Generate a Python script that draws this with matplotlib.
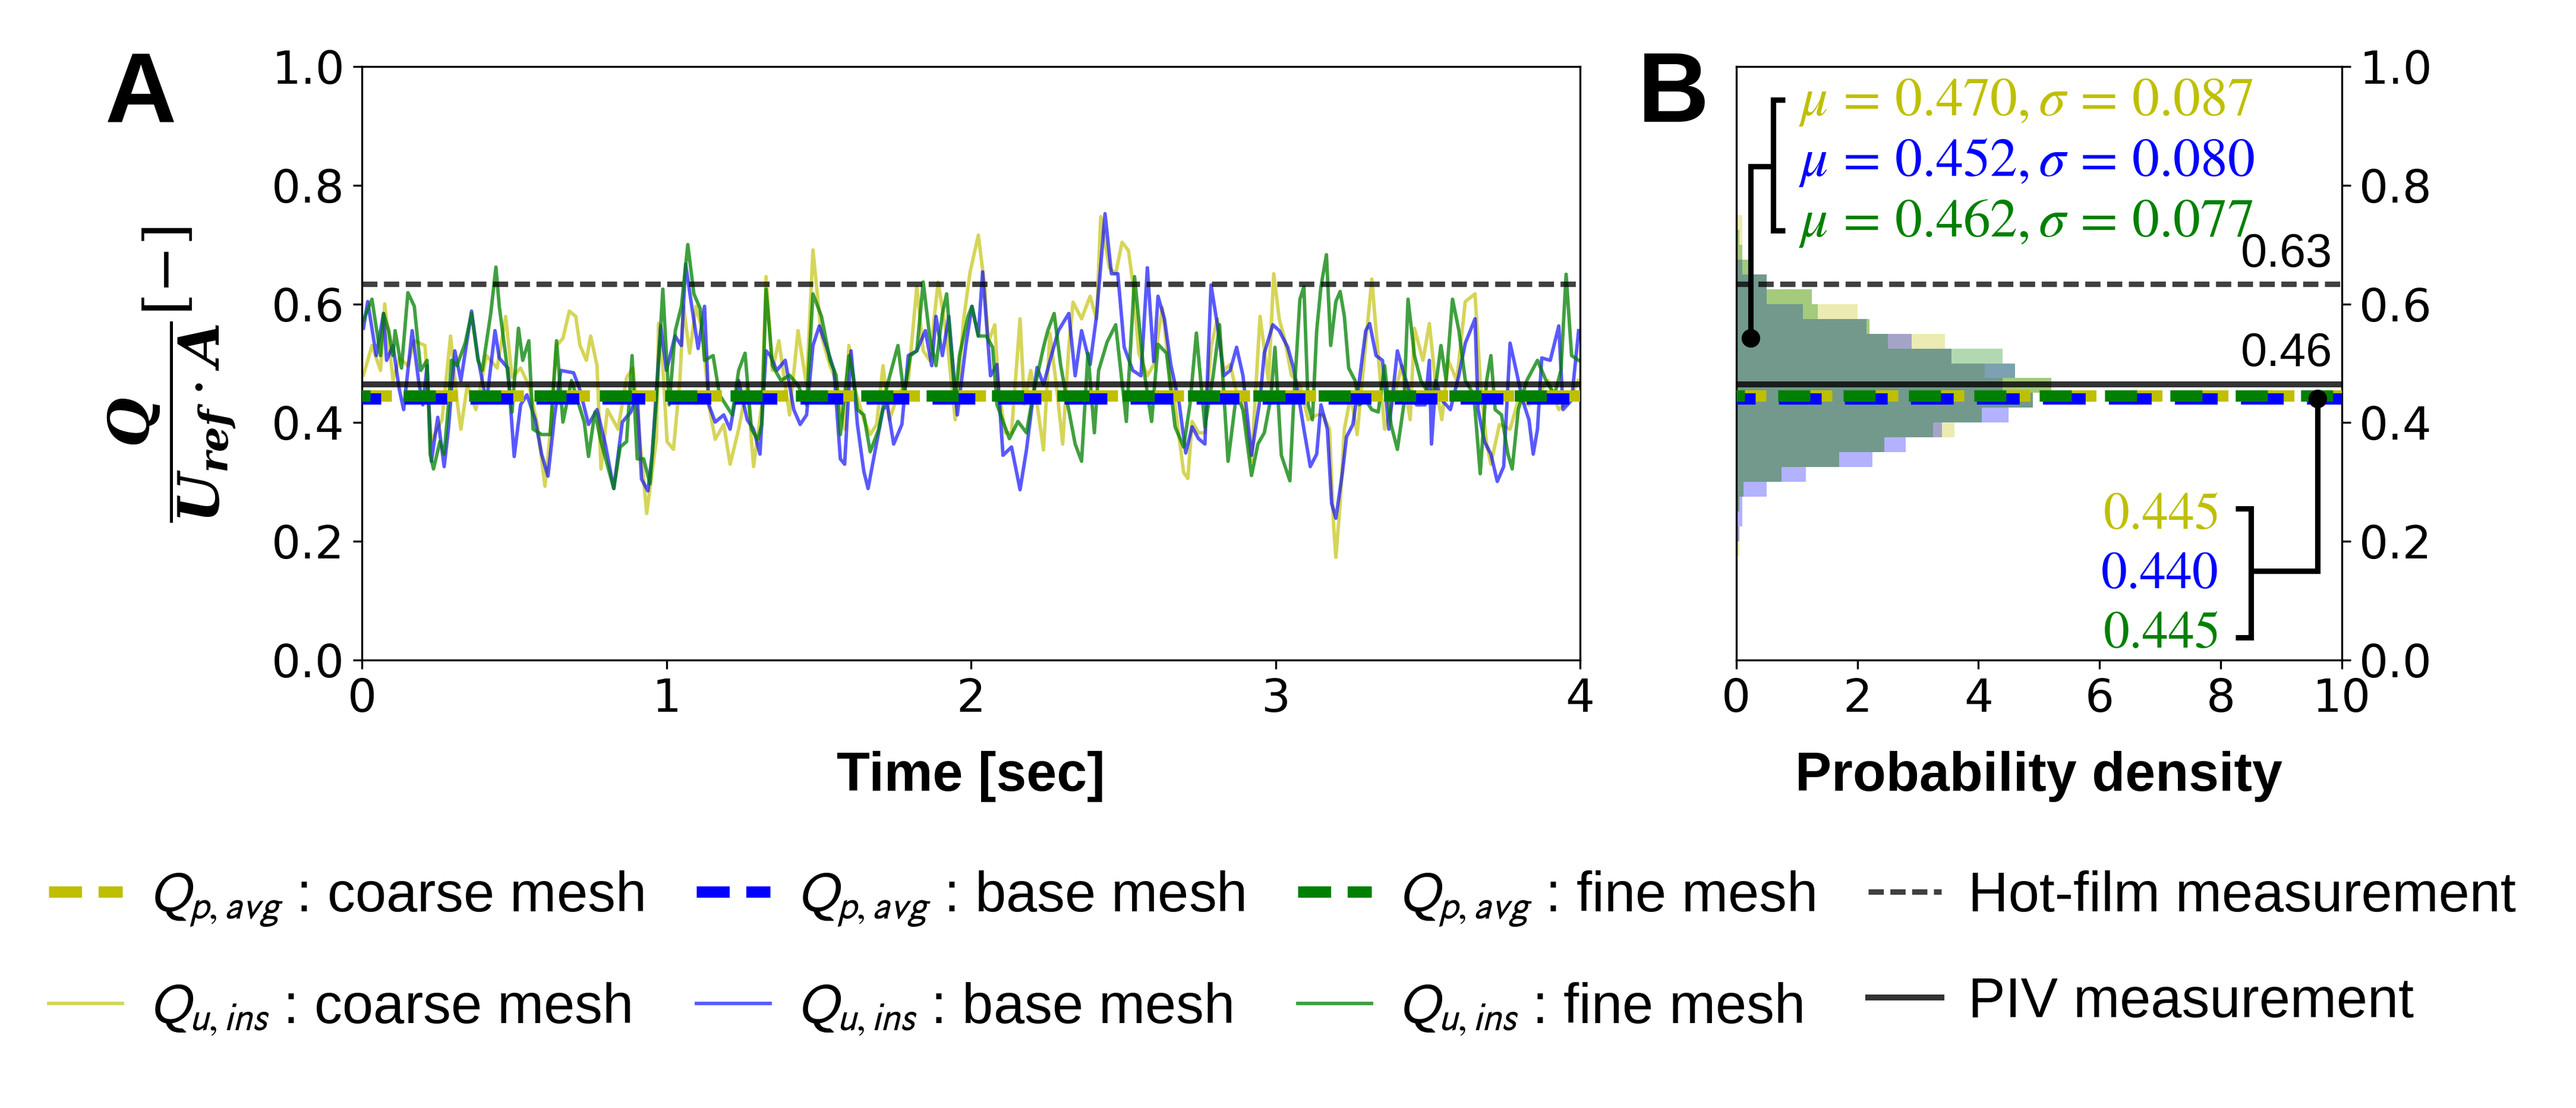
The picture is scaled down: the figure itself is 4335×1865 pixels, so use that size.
import numpy as np
import matplotlib
matplotlib.use('Agg')
import matplotlib.pyplot as plt
from matplotlib.lines import Line2D

# fuentes para el texto matematico del eje y (serif negrita cursiva)
plt.rcParams['mathtext.rm'] = 'DejaVu Serif'
plt.rcParams['mathtext.it'] = 'DejaVu Serif:italic'
plt.rcParams['mathtext.bf'] = 'DejaVu Serif:italic:bold'

# ---------------- datos ----------------
# Q_u,ins malla gruesa (coarse)
t_coarse = [0.005, 0.033, 0.061, 0.075, 0.102, 0.123, 0.151, 0.172, 0.207, 0.228, 0.263, 0.291, 0.312, 0.325,
            0.346, 0.374, 0.409, 0.444, 0.472, 0.493, 0.521, 0.548, 0.576, 0.601, 0.618, 0.639, 0.660, 0.681,
            0.702, 0.716, 0.737, 0.751, 0.772, 0.785, 0.806, 0.841, 0.869, 0.890, 0.925, 0.935, 0.967, 0.974,
            0.988, 1.002, 1.023, 1.044, 1.056, 1.076, 1.097, 1.118, 1.139, 1.160, 1.188, 1.209, 1.237, 1.265,
            1.286, 1.313, 1.327, 1.348, 1.369, 1.404, 1.432, 1.460, 1.481, 1.509, 1.537, 1.557, 1.585, 1.599,
            1.620, 1.648, 1.669, 1.690, 1.711, 1.732, 1.760, 1.794, 1.822, 1.843, 1.864, 1.892, 1.920, 1.948,
            1.976, 1.997, 2.024, 2.045, 2.057, 2.078, 2.091, 2.112, 2.133, 2.161, 2.175, 2.196, 2.217, 2.238,
            2.259, 2.280, 2.301, 2.321, 2.335, 2.363, 2.391, 2.412, 2.426, 2.454, 2.475, 2.496, 2.517, 2.531,
            2.551, 2.579, 2.600, 2.628, 2.649, 2.670, 2.698, 2.712, 2.726, 2.747, 2.768, 2.788, 2.809, 2.830,
            2.851, 2.872, 2.893, 2.921, 2.949, 2.977, 2.994, 3.012, 3.031, 3.052, 3.080, 3.107, 3.135, 3.156,
            3.177, 3.191, 3.198, 3.212, 3.226, 3.247, 3.268, 3.289, 3.316, 3.330, 3.358, 3.386, 3.414, 3.442,
            3.456, 3.484, 3.505, 3.526, 3.546, 3.567, 3.595, 3.623, 3.655, 3.672, 3.693, 3.707, 3.735, 3.770,
            3.797, 3.832, 3.860, 3.895, 3.930, 3.965, 3.993]
q_coarse = [0.480, 0.530, 0.488, 0.600, 0.471, 0.509, 0.496, 0.538, 0.530, 0.368, 0.405, 0.546, 0.438, 0.389,
            0.463, 0.422, 0.513, 0.492, 0.579, 0.476, 0.492, 0.463, 0.397, 0.293, 0.380, 0.530, 0.542, 0.588,
            0.579, 0.530, 0.505, 0.546, 0.496, 0.322, 0.422, 0.389, 0.476, 0.492, 0.305, 0.247, 0.372, 0.567,
            0.496, 0.368, 0.355, 0.471, 0.596, 0.517, 0.596, 0.555, 0.430, 0.372, 0.397, 0.330, 0.389, 0.463,
            0.326, 0.430, 0.646, 0.488, 0.538, 0.413, 0.555, 0.463, 0.691, 0.546, 0.496, 0.471, 0.389, 0.530,
            0.455, 0.405, 0.380, 0.397, 0.496, 0.405, 0.447, 0.471, 0.629, 0.521, 0.505, 0.637, 0.546, 0.405,
            0.575, 0.654, 0.716, 0.629, 0.536, 0.565, 0.455, 0.383, 0.383, 0.575, 0.431, 0.488, 0.431, 0.354,
            0.551, 0.464, 0.364, 0.527, 0.603, 0.575, 0.613, 0.575, 0.747, 0.661, 0.651, 0.704, 0.690, 0.637,
            0.517, 0.479, 0.498, 0.594, 0.498, 0.431, 0.316, 0.306, 0.402, 0.383, 0.383, 0.527, 0.575, 0.488,
            0.498, 0.450, 0.440, 0.335, 0.579, 0.469, 0.651, 0.575, 0.538, 0.480, 0.463, 0.405, 0.413, 0.413,
            0.389, 0.223, 0.173, 0.264, 0.389, 0.447, 0.380, 0.496, 0.642, 0.555, 0.389, 0.438, 0.496, 0.405,
            0.559, 0.505, 0.567, 0.463, 0.405, 0.505, 0.471, 0.604, 0.617, 0.471, 0.364, 0.330, 0.397, 0.389,
            0.438, 0.430, 0.447, 0.471, 0.422, 0.438, 0.471]

# Q_u,ins malla base
t_base = [0.005, 0.019, 0.047, 0.071, 0.081, 0.102, 0.123, 0.137, 0.165, 0.186, 0.200, 0.214, 0.228, 0.249,
          0.270, 0.284, 0.305, 0.325, 0.360, 0.381, 0.409, 0.437, 0.451, 0.479, 0.500, 0.521, 0.542, 0.569,
          0.590, 0.611, 0.632, 0.653, 0.695, 0.716, 0.744, 0.772, 0.799, 0.827, 0.855, 0.883, 0.904, 0.918,
          0.939, 0.953, 0.981, 1.000, 1.028, 1.049, 1.063, 1.083, 1.104, 1.125, 1.139, 1.160, 1.188, 1.209,
          1.237, 1.265, 1.286, 1.307, 1.327, 1.341, 1.362, 1.390, 1.418, 1.439, 1.460, 1.481, 1.502, 1.530,
          1.550, 1.571, 1.585, 1.606, 1.627, 1.648, 1.662, 1.683, 1.711, 1.725, 1.746, 1.773, 1.794, 1.822,
          1.850, 1.871, 1.885, 1.906, 1.927, 1.955, 1.983, 2.003, 2.024, 2.038, 2.064, 2.085, 2.105, 2.133,
          2.161, 2.182, 2.203, 2.217, 2.238, 2.266, 2.287, 2.321, 2.342, 2.363, 2.391, 2.412, 2.440, 2.461,
          2.482, 2.503, 2.531, 2.558, 2.579, 2.600, 2.614, 2.635, 2.656, 2.684, 2.705, 2.726, 2.747, 2.768,
          2.788, 2.809, 2.830, 2.851, 2.872, 2.893, 2.921, 2.949, 2.963, 2.991, 3.012, 3.040, 3.059, 3.080,
          3.093, 3.114, 3.135, 3.149, 3.170, 3.184, 3.198, 3.219, 3.233, 3.254, 3.275, 3.296, 3.309, 3.330,
          3.351, 3.372, 3.400, 3.414, 3.442, 3.463, 3.491, 3.505, 3.512, 3.526, 3.546, 3.574, 3.602, 3.623,
          3.655, 3.665, 3.686, 3.707, 3.728, 3.749, 3.770, 3.790, 3.811, 3.832, 3.846, 3.860, 3.874, 3.902,
          3.930, 3.944, 3.972, 3.995]
q_base = [0.559, 0.604, 0.513, 0.584, 0.505, 0.530, 0.455, 0.422, 0.555, 0.471, 0.430, 0.496, 0.335, 0.409,
          0.326, 0.389, 0.521, 0.471, 0.588, 0.509, 0.434, 0.555, 0.509, 0.492, 0.343, 0.430, 0.447, 0.405,
          0.347, 0.310, 0.409, 0.488, 0.484, 0.455, 0.397, 0.422, 0.364, 0.289, 0.401, 0.418, 0.447, 0.305,
          0.285, 0.347, 0.563, 0.488, 0.546, 0.530, 0.667, 0.596, 0.525, 0.596, 0.430, 0.401, 0.413, 0.389,
          0.471, 0.405, 0.389, 0.347, 0.521, 0.513, 0.488, 0.505, 0.422, 0.397, 0.413, 0.530, 0.563, 0.521,
          0.488, 0.339, 0.330, 0.521, 0.397, 0.318, 0.289, 0.347, 0.422, 0.430, 0.364, 0.397, 0.513, 0.521,
          0.555, 0.496, 0.579, 0.513, 0.579, 0.413, 0.530, 0.596, 0.546, 0.654, 0.479, 0.498, 0.345, 0.359,
          0.287, 0.354, 0.440, 0.493, 0.464, 0.517, 0.555, 0.584, 0.479, 0.555, 0.498, 0.579, 0.752, 0.651,
          0.651, 0.527, 0.488, 0.479, 0.661, 0.503, 0.613, 0.575, 0.498, 0.431, 0.349, 0.393, 0.373, 0.364,
          0.632, 0.565, 0.479, 0.488, 0.527, 0.479, 0.345, 0.440, 0.517, 0.565, 0.555, 0.527, 0.492, 0.430,
          0.389, 0.326, 0.347, 0.430, 0.389, 0.264, 0.239, 0.314, 0.376, 0.397, 0.471, 0.555, 0.567, 0.513,
          0.505, 0.389, 0.521, 0.496, 0.447, 0.430, 0.430, 0.505, 0.364, 0.471, 0.438, 0.422, 0.480, 0.534,
          0.575, 0.422, 0.368, 0.347, 0.301, 0.326, 0.534, 0.488, 0.438, 0.405, 0.347, 0.389, 0.509, 0.505,
          0.563, 0.422, 0.438, 0.555]

# Q_u,ins malla fina
t_fine = [0.005, 0.033, 0.061, 0.071, 0.088, 0.102, 0.109, 0.130, 0.151, 0.172, 0.193, 0.214, 0.224, 0.235,
          0.256, 0.270, 0.284, 0.294, 0.312, 0.339, 0.360, 0.381, 0.395, 0.423, 0.440, 0.451, 0.472, 0.493,
          0.514, 0.528, 0.548, 0.562, 0.590, 0.618, 0.639, 0.660, 0.688, 0.730, 0.744, 0.765, 0.785, 0.827,
          0.848, 0.869, 0.887, 0.904, 0.925, 0.946, 0.967, 0.988, 1.009, 1.029, 1.049, 1.070, 1.090, 1.111,
          1.125, 1.153, 1.174, 1.195, 1.216, 1.237, 1.258, 1.279, 1.300, 1.313, 1.327, 1.348, 1.376, 1.404,
          1.432, 1.460, 1.481, 1.509, 1.537, 1.557, 1.571, 1.599, 1.613, 1.627, 1.648, 1.669, 1.697, 1.725,
          1.760, 1.780, 1.801, 1.822, 1.843, 1.864, 1.885, 1.906, 1.920, 1.948, 1.962, 1.990, 2.003, 2.024,
          2.050, 2.071, 2.085, 2.105, 2.126, 2.154, 2.182, 2.203, 2.238, 2.252, 2.273, 2.294, 2.314, 2.342,
          2.363, 2.384, 2.405, 2.419, 2.447, 2.475, 2.510, 2.537, 2.565, 2.593, 2.614, 2.642, 2.670, 2.698,
          2.719, 2.740, 2.768, 2.795, 2.816, 2.844, 2.872, 2.893, 2.921, 2.942, 2.963, 2.984, 2.998, 3.019,
          3.047, 3.059, 3.080, 3.093, 3.107, 3.121, 3.135, 3.149, 3.167, 3.181, 3.198, 3.212, 3.226, 3.240,
          3.261, 3.275, 3.296, 3.316, 3.337, 3.358, 3.379, 3.400, 3.421, 3.435, 3.456, 3.477, 3.505, 3.526,
          3.543, 3.560, 3.581, 3.602, 3.623, 3.651, 3.672, 3.693, 3.707, 3.721, 3.742, 3.763, 3.777, 3.797,
          3.825, 3.860, 3.888, 3.916, 3.937, 3.954, 3.972, 3.995]
q_fine = [0.573, 0.608, 0.513, 0.584, 0.555, 0.513, 0.555, 0.492, 0.619, 0.596, 0.488, 0.505, 0.347, 0.322,
          0.368, 0.347, 0.430, 0.505, 0.496, 0.534, 0.584, 0.505, 0.488, 0.584, 0.662, 0.596, 0.513, 0.418,
          0.559, 0.505, 0.538, 0.389, 0.380, 0.380, 0.538, 0.401, 0.471, 0.401, 0.343, 0.418, 0.368, 0.289,
          0.359, 0.368, 0.513, 0.339, 0.339, 0.297, 0.438, 0.625, 0.430, 0.555, 0.596, 0.700, 0.617, 0.592,
          0.505, 0.513, 0.447, 0.430, 0.413, 0.488, 0.517, 0.389, 0.372, 0.397, 0.625, 0.496, 0.471, 0.480,
          0.463, 0.430, 0.617, 0.579, 0.505, 0.480, 0.380, 0.513, 0.480, 0.422, 0.413, 0.351, 0.389, 0.463,
          0.530, 0.447, 0.513, 0.521, 0.637, 0.546, 0.496, 0.584, 0.617, 0.438, 0.513, 0.579, 0.596, 0.546,
          0.546, 0.527, 0.431, 0.402, 0.373, 0.402, 0.383, 0.445, 0.527, 0.555, 0.584, 0.498, 0.440, 0.364,
          0.335, 0.517, 0.383, 0.488, 0.536, 0.565, 0.402, 0.646, 0.498, 0.402, 0.532, 0.517, 0.393, 0.359,
          0.431, 0.551, 0.393, 0.479, 0.565, 0.335, 0.450, 0.421, 0.311, 0.364, 0.383, 0.440, 0.527, 0.345,
          0.302, 0.430, 0.608, 0.629, 0.430, 0.405, 0.555, 0.629, 0.683, 0.530, 0.604, 0.621, 0.579, 0.492,
          0.471, 0.430, 0.438, 0.422, 0.418, 0.496, 0.397, 0.355, 0.430, 0.608, 0.513, 0.471, 0.447, 0.463,
          0.530, 0.471, 0.608, 0.555, 0.471, 0.447, 0.314, 0.471, 0.513, 0.422, 0.413, 0.347, 0.322, 0.422,
          0.471, 0.505, 0.471, 0.447, 0.488, 0.650, 0.513, 0.505]

# promedios Q_p,avg y mediciones
mean_coarse, mean_base, mean_fine = 0.445, 0.440, 0.445
hot_film = 0.634
piv = 0.464
stats = [(0.470, 0.087), (0.452, 0.080), (0.462, 0.077)]

# histogramas (densidad de probabilidad), borde inferior de cada clase
bin_lo = [0.175, 0.200, 0.225, 0.250, 0.275, 0.300, 0.325, 0.350, 0.375, 0.400, 0.425, 0.450,
          0.475, 0.500, 0.525, 0.550, 0.575, 0.600, 0.625, 0.650, 0.675, 0.700, 0.725]
dens_coarse = [0.05, 0.05, 0.0, 0.05, 0.12, 0.75, 1.7, 2.45, 3.6, 4.05, 4.9, 5.2,
               4.1, 3.55, 3.45, 2.2, 2.0, 1.25, 0.5, 0.25, 0.1, 0.1, 0.1]
dens_base = [0.0, 0.05, 0.1, 0.1, 0.5, 1.15, 2.25, 2.8, 3.4, 4.5, 4.9, 4.4,
             4.6, 3.55, 2.9, 2.15, 1.1, 0.5, 0.5, 0.1, 0.0, 0.0, 0.0]
dens_fine = [0.0, 0.0, 0.0, 0.05, 0.12, 0.75, 1.7, 2.45, 3.25, 4.05, 4.9, 5.2,
             4.6, 4.4, 2.5, 2.2, 1.35, 1.25, 0.5, 0.25, 0.1, 0.05, 0.0]
bin_w = 0.025

colores = ['y', 'b', 'g']
mallas = ['coarse mesh', 'base mesh', 'fine mesh']

# ---------------- figura ----------------
fig = plt.figure(figsize=(14.45, 6.2167), dpi=300)
axA = fig.add_axes([0.1405, 0.4043, 0.4729, 0.5356])
axB = fig.add_axes([0.6740, 0.4043, 0.2351, 0.5356])

# patrones de guiones de las lineas de promedio (en unidades de lw)
lw_m = 4.6
dash = {'y': (2.087, (4.695, 1.101)), 'b': (2.087, (3.756, 2.040)), 'g': (2.087, (2.817, 2.921))}
medias = [mean_coarse, mean_base, mean_fine]

# Panel A
ins = []
for t, q, c, a in zip([t_coarse, t_base, t_fine], [q_coarse, q_base, q_fine], colores, [0.65, 0.65, 0.75]):
    l, = axA.plot(t, q, color=c, lw=1.4, alpha=a, zorder=2)
    ins.append(l)

hot = axA.axhline(hot_film, color='k', alpha=0.75, lw=2.2, ls=(0, (2.8, 1.2)), zorder=3)
pivl = axA.axhline(piv, color='k', alpha=0.8, lw=2.4, zorder=3)
for m, c, z in zip(medias, colores, [4, 5, 6]):
    axA.axhline(m, color=c, lw=lw_m, ls=dash[c], zorder=z)

axA.set_xlim(0, 4)
axA.set_ylim(0, 1)
axA.set_xticks([0, 1, 2, 3, 4])
axA.set_yticks([0, 0.2, 0.4, 0.6, 0.8, 1.0])
axA.tick_params(labelsize=18.5)
axA.set_xlabel('Time [sec]', fontfamily='Liberation Sans', fontweight='bold', fontsize=22, labelpad=12)

# Panel B: histogramas horizontales
for d, c in zip([dens_coarse, dens_base, dens_fine], colores):
    axB.barh(bin_lo, d, height=bin_w, align='edge', color=c, alpha=0.3, lw=0, zorder=1)

axB.axhline(hot_film, color='k', alpha=0.75, lw=2.2, ls=(0, (2.8, 1.2)), zorder=3)
axB.axhline(piv, color='k', alpha=0.8, lw=2.4, zorder=3)
for m, c, z in zip(medias, colores, [4, 5, 6]):
    axB.axhline(m, color=c, lw=lw_m, ls=dash[c], zorder=z)

axB.set_xlim(0, 10)
axB.set_ylim(0, 1)
axB.set_xticks([0, 2, 4, 6, 8, 10])
axB.set_yticks([0, 0.2, 0.4, 0.6, 0.8, 1.0])
axB.yaxis.tick_right()
axB.tick_params(labelsize=18.5)
axB.set_xlabel('Probability density', fontfamily='Liberation Sans', fontweight='bold', fontsize=22, labelpad=12)

# textos de mu y sigma
for i, ((mu, sd), c) in enumerate(zip(stats, colores)):
    axB.text(1.02, 0.942 - 0.102 * i, r'$\mu\,=\,%.3f,\sigma\,=\,%.3f$' % (mu, sd), color=c,
             fontsize=22, ha='left', va='center', math_fontfamily='stix', zorder=8)
# corchete superior
kw = dict(color='k', lw=2.2, zorder=8, solid_capstyle='butt', solid_joinstyle='miter')
axB.plot([0.81, 0.61, 0.61, 0.81], [0.944, 0.944, 0.724, 0.724], **kw)
axB.plot([0.61, 0.24, 0.24], [0.832, 0.832, 0.543], **kw)
axB.plot([0.24], [0.543], 'o', color='k', ms=6.5, zorder=9)

# etiquetas de mediciones
axB.text(9.84, 0.683, '%.2f' % hot_film, fontsize=19, family='Liberation Sans', ha='right', va='center')
axB.text(9.84, 0.516, '%.2f' % piv, fontsize=19, family='Liberation Sans', ha='right', va='center')

# valores de promedio
for i, (m, c) in enumerate(zip(medias, colores)):
    axB.text(7.95, 0.245 - 0.1 * i, r'$%.3f$' % m, color=c, fontsize=21, ha='right', va='center',
             math_fontfamily='stix', zorder=8)
axB.plot([8.24, 8.5, 8.5, 8.24], [0.255, 0.255, 0.038, 0.038], **kw)
axB.plot([8.5, 9.6, 9.6], [0.15, 0.15, mean_base], **kw)
axB.plot([9.6], [mean_base], 'o', color='k', ms=6.5, zorder=9)

# etiqueta del eje y
fig.text(0.0669, 0.662, r'$\dfrac{\mathbf{Q}}{\mathbf{U_{ref}}\cdot\mathbf{A}}\mathrm{[-]}$', rotation=90,
         ha='center', va='center', fontsize=23, math_fontfamily='custom')

# letras de panel
fig.text(0.0408, 0.890, 'A', fontsize=40, fontweight='bold', family='Liberation Sans', va='baseline')
fig.text(0.6358, 0.890, 'B', fontsize=40, fontweight='bold', family='Liberation Sans', va='baseline')

# leyenda
handles = []
labels = []
for c, malla, l in zip(colores, mallas, ins):
    handles.append(Line2D([], [], color=c, lw=lw_m, ls=(0, (2.9, 1.45))))
    labels.append(r'$Q_{p,avg}$ : ' + malla)
    handles.append(l)
    labels.append(r'$Q_{u,ins}$ : ' + malla)
handles += [hot, pivl]
labels += ['Hot-film measurement', 'PIV measurement']

leg = fig.legend(handles, labels, ncol=4, loc='center left', bbox_to_anchor=(0.019, 0.1395), frameon=False,
                 prop={'family': 'Liberation Sans', 'size': 22.5}, handlelength=1.32, handletextpad=0.48,
                 columnspacing=0.95, labelspacing=0.95, borderpad=0, borderaxespad=0)
for txt in leg.get_texts():
    txt.set_math_fontfamily('stixsans')

fig.savefig('out.png', dpi=300)
